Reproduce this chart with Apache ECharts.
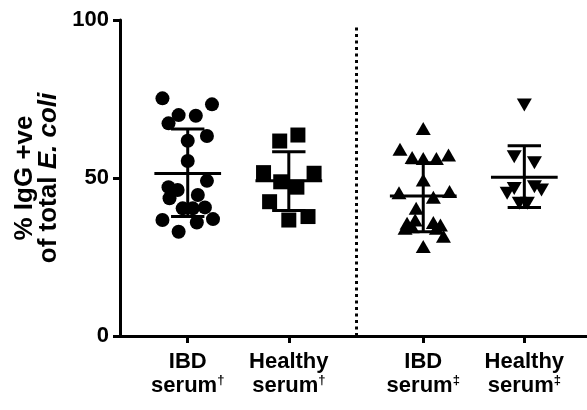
<!DOCTYPE html>
<html>
<head>
<meta charset="utf-8">
<script src="https://cdn.jsdelivr.net/npm/echarts@6/dist/echarts.min.js"></script>
<style>
  html, body { margin: 0; background: #fff; }
  #chart { width: 587px; height: 410px; }
</style>
</head>
<body>
<div id="chart"></div>
<script>
// group positions on the x axis (two panels, gap between them)
var groupPos = [1, 2, 3.33, 4.33];
var groupTop = ['IBD', 'Healthy', 'IBD', 'Healthy'];
var groupMark = ['†', '†', '‡', '‡'];

// % IgG +ve values, with horizontal jitter
var ibdA = [75.2, 73.3, 69.9, 69.7, 67.3, 63.3, 61.8, 55.4, 49.1, 47.1, 46.2, 43.6, 44.6, 40.4, 40.4, 40.7, 36.7, 35.9, 37.0, 33.0];
var ibdAJit = [-0.25, 0.24, -0.09, 0.08, -0.19, 0.19, 0, 0, 0.19, -0.19, -0.1, -0.18, 0.1, -0.05, 0.05, 0.17, -0.25, 0.09, 0.25, -0.09];
var healthyA = [61.7, 63.6, 51.7, 51.5, 48.8, 47.1, 42.5, 36.7, 37.8];
var healthyAJit = [-0.09, 0.09, -0.25, 0.25, -0.08, 0.08, -0.19, 0, 0.19];
var ibdB = [65.7, 59.1, 56.5, 56.2, 56.2, 57.3, 49.4, 45.3, 45.7, 43.9, 40.4, 35.7, 36.7, 34.1, 35.9, 35.1, 31.6, 28.3, 34.6, 34.1];
var ibdBJit = [0, -0.23, -0.11, 0, 0.13, 0.25, 0, -0.24, 0.26, 0.1, -0.07, -0.16, -0.08, -0.18, 0.1, 0.17, 0.2, 0, -0.11, 0.13];
var healthyB = [73.1, 56.7, 54.8, 45.2, 46.7, 47.2, 46.2, 42.0, 42.0];
var healthyBJit = [0, -0.1, 0.1, -0.17, -0.1, 0.1, 0.17, -0.05, 0.03];

// mean and SD bars as drawn
var means = [51.4, 49.1, 44.3, 50.2];
var sdLow = [37.8, 39.7, 33.0, 40.7];
var sdHigh = [65.5, 58.3, 54.8, 60.2];

var dividerX = 2.67;

var font = 'Liberation Sans, Arial, sans-serif';

function pts(vals, jit, g) {
  return vals.map(function (v, i) { return [groupPos[g] + jit[i], v]; });
}

function renderBar(params, api) {
  var x = api.value(0);
  var pm = api.coord([x, api.value(1)]);
  var pl = api.coord([x, api.value(2)]);
  var ph = api.coord([x, api.value(3)]);
  var hm = api.size([0.33, 0])[0];
  var hc = api.size([0.165, 0])[0];
  var st = { stroke: '#000', lineWidth: 3 };
  return {
    type: 'group',
    children: [
      { type: 'line', shape: { x1: pm[0] - hm, y1: pm[1], x2: pm[0] + hm, y2: pm[1] }, style: st },
      { type: 'line', shape: { x1: pl[0], y1: pl[1], x2: ph[0], y2: ph[1] }, style: st },
      { type: 'line', shape: { x1: ph[0] - hc, y1: ph[1], x2: ph[0] + hc, y2: ph[1] }, style: st },
      { type: 'line', shape: { x1: pl[0] - hc, y1: pl[1], x2: pl[0] + hc, y2: pl[1] }, style: st }
    ]
  };
}

var chart = echarts.init(document.getElementById('chart'));
chart.setOption({
  animation: false,
  grid: { left: 120, right: 0, top: 20, bottom: 74, containLabel: false },
  xAxis: {
    type: 'value',
    min: 0.33,
    max: 4.95,
    splitLine: { show: false },
    axisLine: { show: true, lineStyle: { color: '#000', width: 3 } },
    axisTick: { show: true, customValues: groupPos, length: 7, lineStyle: { color: '#000', width: 3 } },
    axisLabel: {
      customValues: groupPos,
      margin: 14,
      formatter: function (v) {
        var i = groupPos.indexOf(v);
        return '{t|' + groupTop[i] + '}\n{t|serum}{s|' + groupMark[i] + '}';
      },
      rich: {
        t: { fontFamily: font, fontWeight: 'bold', fontSize: 22, color: '#000', lineHeight: 24 },
        s: { fontFamily: font, fontWeight: 'bold', fontSize: 13, color: '#000', verticalAlign: 'top', lineHeight: 24 }
      }
    }
  },
  yAxis: {
    type: 'value',
    min: 0,
    max: 100,
    interval: 50,
    splitLine: { show: false },
    axisLine: { show: true, lineStyle: { color: '#000', width: 3 } },
    axisTick: { show: true, length: 7, lineStyle: { color: '#000', width: 3 } },
    axisLabel: { fontFamily: font, fontWeight: 'bold', fontSize: 22, color: '#000', margin: 11 },
    name: '{a|% IgG +ve}\n{a|of total }{i|E. coli}',
    nameLocation: 'middle',
    nameRotate: 90,
    nameGap: 56,
    nameTextStyle: {
      rich: {
        a: { fontFamily: font, fontWeight: 'bold', fontSize: 26, color: '#000', lineHeight: 24 },
        i: { fontFamily: font, fontWeight: 'bold', fontStyle: 'italic', fontSize: 26, color: '#000', lineHeight: 24 }
      }
    }
  },
  series: [
    { type: 'scatter', symbol: 'circle', symbolSize: 14, itemStyle: { color: '#000', opacity: 1 }, data: pts(ibdA, ibdAJit, 0) },
    { type: 'scatter', symbol: 'rect', symbolSize: 15, itemStyle: { color: '#000', opacity: 1 }, data: pts(healthyA, healthyAJit, 1) },
    { type: 'scatter', symbol: 'triangle', symbolSize: [15, 13], itemStyle: { color: '#000', opacity: 1 }, data: pts(ibdB, ibdBJit, 2) },
    { type: 'scatter', symbol: 'triangle', symbolRotate: 180, symbolSize: [15, 13], itemStyle: { color: '#000', opacity: 1 }, data: pts(healthyB, healthyBJit, 3) },
    {
      type: 'custom',
      renderItem: renderBar,
      data: groupPos.map(function (p, i) { return [p, means[i], sdLow[i], sdHigh[i]]; }),
      z: 3
    },
    {
      type: 'line',
      symbol: 'none',
      lineStyle: { color: '#000', width: 3, type: [3, 3.5] },
      data: [[dividerX, 0], [dividerX, 98.4]]
    }
  ]
});
</script>
</body>
</html>
